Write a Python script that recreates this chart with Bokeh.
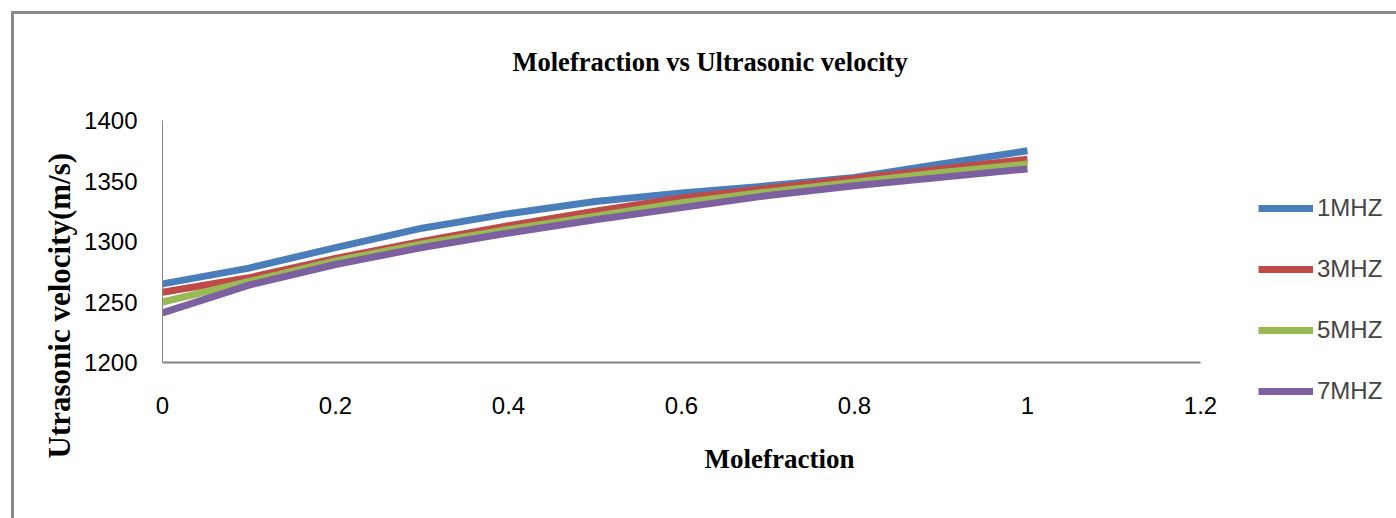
from bokeh.plotting import figure
from bokeh.models import Range1d, FixedTicker, Legend, LegendItem, Title, LinearAxis
from bokeh.embed import file_html
from bokeh.resources import INLINE

# ---- data ----
molefraction = [0.0, 0.1, 0.2, 0.3, 0.4, 0.5, 0.6, 0.7, 0.8, 0.9, 1.0]
v_1mhz = [1265, 1278, 1295, 1311, 1323, 1333, 1340, 1346, 1353, 1364, 1375]
v_3mhz = [1258, 1270, 1286, 1300, 1313, 1325, 1336, 1344, 1352, 1360, 1368]
v_5mhz = [1250, 1267, 1284, 1298, 1310, 1321, 1332, 1341, 1349, 1357, 1364]
v_7mhz = [1241, 1264, 1281, 1295, 1307, 1318, 1328, 1338, 1346, 1353, 1360]
series_names = ["1MHZ", "3MHZ", "5MHZ", "7MHZ"]
series_colors = ["#4A7EBB", "#BE4B48", "#98B954", "#7D60A0"]
x_ticks = [0, 0.2, 0.4, 0.6, 0.8, 1.0, 1.2]
x_tick_labels = ["0", "0.2", "0.4", "0.6", "0.8", "1", "1.2"]
y_ticks = [1200, 1250, 1300, 1350, 1400]
x_axis_span = (0, 1.2)
y_axis_span = (1200, 1400)
title_text = "Molefraction vs Ultrasonic velocity"
x_label = "Molefraction"
y_label = "Utrasonic velocity(m/s)"

TICK_FONT = "Liberation Sans"
SERIF = "Liberation Serif"
GRAY = "#8a8a8a"
AXIS_GRAY = "#868686"

# frame: x 162..1396 px, y 120..406 px; value axes cover 0..1.2 and 1200..1400
FRAME_L, FRAME_R, FRAME_T, FRAME_B = 162, 1396, 120, 406
X_ZERO_PX = 362
PX_PER_X = 865.0
PX_PER_Y = 1.21
x_end = (FRAME_R - FRAME_L) / PX_PER_X
y_start = y_axis_span[0] - (FRAME_B - X_ZERO_PX) / PX_PER_Y

p = figure(width=1396, height=518, output_backend="svg", toolbar_location=None,
           x_range=Range1d(0, x_end), y_range=Range1d(y_start, y_axis_span[1]),
           min_border_left=FRAME_L, min_border_right=0, min_border_top=FRAME_T,
           min_border_bottom=518 - FRAME_B)
# chart-area frame line (top and left), drawn behind a transparent canvas
p.styles = {
    "background-image": f"linear-gradient({GRAY},{GRAY}), linear-gradient({GRAY},{GRAY})",
    "background-size": "100% 3px, 3px 100%",
    "background-position": "11px 11px, 11px 11px",
    "background-repeat": "no-repeat, no-repeat",
    "background-color": "white",
}
p.border_fill_color = None
p.background_fill_color = None
p.outline_line_color = None
p.grid.visible = False

renderers = []
for vals, col in zip([v_1mhz, v_3mhz, v_5mhz, v_7mhz], series_colors):
    r = p.line(molefraction, vals, line_color=col, line_width=7, line_join="round", line_cap="butt")
    renderers.append(r)

# x axis: labels from the axis at the frame bottom, axis line at y = 1200
xa = p.xaxis[0]
xa.ticker = FixedTicker(ticks=x_ticks)
xa.major_label_overrides = {t: l for t, l in zip(x_ticks, x_tick_labels)}
xa.axis_line_color = None
xa.major_label_standoff = -10
xa.axis_label = x_label
xa.axis_label_text_font = SERIF
xa.axis_label_text_font_style = "bold"
xa.axis_label_text_font_size = "27px"
xa.axis_label_text_color = "black"
xa.axis_label_standoff = 27

x_line_axis = LinearAxis(fixed_location=y_axis_span[0], bounds=x_axis_span,
                         ticker=FixedTicker(ticks=[]), axis_line_color=AXIS_GRAY,
                         axis_line_width=2, major_tick_line_color=None,
                         minor_tick_line_color=None, major_label_text_color=None,
                         major_tick_out=0, major_tick_in=0, minor_tick_out=0, minor_tick_in=0)
p.add_layout(x_line_axis, "below")

ya = p.yaxis[0]
ya.ticker = FixedTicker(ticks=y_ticks)
ya.bounds = y_axis_span
ya.axis_line_color = AXIS_GRAY
ya.axis_line_width = 1
ya.major_label_standoff = 25

for ax in (xa, ya):
    ax.major_tick_line_color = None
    ax.minor_tick_line_color = None
    ax.major_tick_out = 0
    ax.major_tick_in = 0
    ax.minor_tick_out = 0
    ax.minor_tick_in = 0
    ax.major_label_text_font = TICK_FONT
    ax.major_label_text_font_size = "24px"
    ax.major_label_text_color = "black"

# title
p.add_layout(Title(text=title_text, text_font=SERIF, text_font_style="bold",
                   text_font_size="26.5px", align="left", offset=350, standoff=88,
                   text_color="black"), "above")
# y axis title
p.add_layout(Title(text=y_label, text_font=SERIF, text_font_style="bold",
                   text_font_size="31px", align="left", offset=-52, standoff=10,
                   text_color="black"), "left")

legend = Legend(items=[LegendItem(label=n, renderers=[r]) for n, r in zip(series_names, renderers)],
                location=(1096, 1), orientation="vertical",
                glyph_width=55, glyph_height=28, label_height=28, spacing=33,
                label_standoff=4, padding=0, margin=0,
                label_text_font=TICK_FONT, label_text_font_size="24px",
                border_line_color=None, background_fill_alpha=0)
p.add_layout(legend)

open("out.html", "w").write(file_html(p, INLINE))
